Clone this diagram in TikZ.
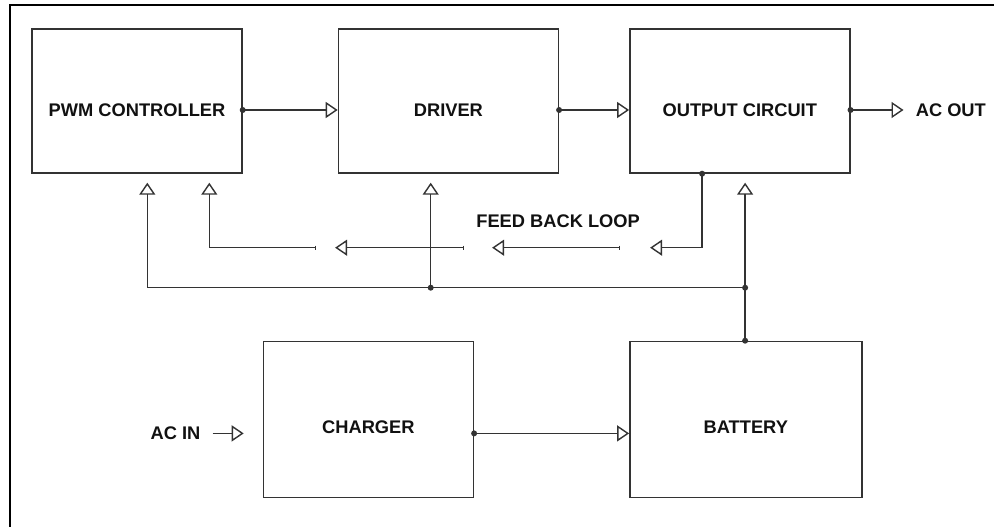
\documentclass[tikz,border=0pt]{standalone}
\usepackage{fontspec}
\setmainfont{Liberation Sans}
\usepackage{xcolor}
\usetikzlibrary{arrows.meta,positioning}
\definecolor{tinta}{HTML}{111111}
\definecolor{trazo}{HTML}{333333}

\begin{document}
\begin{tikzpicture}[
    bloque/.style={draw=trazo,line width=1pt,minimum width=5.5cm,
                   minimum height=3.6cm,text height=0.78cm,text depth=0pt,
                   font=\fontsize{13}{15}\selectfont\bfseries\color{tinta}},
    rotulo/.style={inner xsep=0.3cm,inner ysep=0pt,
                   font=\fontsize{13}{15}\selectfont\bfseries\color{tinta}},
    senal/.style={draw=trazo,line width=1pt},
    >={Triangle[open,length=0.3cm,width=0.4cm]}]
  \useasboundingbox (0,0) rectangle (24.85,-13.175);
  \draw[black,line width=1.5pt] (0.25,-13.5) -- (0.25,-0.125) -- (25,-0.125);

  \node[bloque,minimum width=5.25cm] (pwm) at (3.425,-2.525) {PWM CONTROLLER};
  \node[bloque,right=2.375cm of pwm] (drv) {DRIVER};
  \node[bloque,right=1.75cm of drv] (out) {OUTPUT CIRCUIT};
  \node[bloque,minimum width=5.8cm,minimum height=3.9cm,text height=0.68cm,
        below=4.175cm of out.south west,anchor=north west] (bat) {BATTERY};
  \node[bloque,minimum width=5.25cm,minimum height=3.9cm,text height=0.68cm,
        left=3.875cm of bat] (chg) {CHARGER};

  % salidas de cada bloque
  \coordinate (pwmo) at ([yshift=-0.225cm]pwm.east);
  \coordinate (drvo) at ([yshift=-0.225cm]drv.east);
  \coordinate (outo) at ([yshift=-0.225cm]out.east);
  \coordinate (chgo) at ([yshift=-0.35cm]chg.east);
  \draw[senal,->] (pwmo) -- (pwmo -| drv.west);
  \draw[senal,->] (drvo) -- (drvo -| out.west);
  \node[rotulo,right=1.325cm of outo] (acout) {AC OUT};
  \draw[senal,->] (outo) -- (acout.west);
  \draw[senal,->] (chgo) -- (chgo -| bat.west);
  \coordinate (chgi) at (chgo -| chg.west);
  \coordinate[left=0.475cm of chgi] (acinp);
  \node[rotulo,left=0.775cm of acinp] (acin) {AC IN};
  \draw[senal,->] (acin.east) -- (acinp);

  % entradas por abajo y alimentacion desde la bateria
  \coordinate (pwmi1) at ([xshift=2.9cm,yshift=-0.225cm]pwm.south west);
  \coordinate (pwmi2) at ([xshift=4.45cm,yshift=-0.225cm]pwm.south west);
  \coordinate (drvi) at ([xshift=2.325cm,yshift=-0.225cm]drv.south west);
  \coordinate (outi) at ([xshift=2.9cm,yshift=-0.225cm]out.south west);
  \coordinate (batj) at ([xshift=2.9cm]bat.north west);
  \coordinate (busr) at ([yshift=1.325cm]batj);
  \coordinate (busm) at (drvi |- busr);
  \draw[senal,->] (batj) -- (outi);
  \draw[senal,->] (busm) -- (drvi);
  \draw[senal,->] (busr) -| (pwmi1);

  % lazo de realimentacion, en tramos
  \coordinate (fbo) at ([xshift=1.825cm]out.south west);
  \coordinate (fbc) at ([yshift=-1.85cm]fbo);
  \draw[senal,->] (fbo) |- ([xshift=-1.3cm]fbc);
  \foreach \a/\b in {2.05/5.25,5.95/9.175}
    \draw[senal,{Bar[width=0.1cm]}->] ([xshift=-\a cm]fbc) -- ([xshift=-\b cm]fbc);
  \draw[senal,{Bar[width=0.1cm]}->] ([xshift=-9.65cm]fbc) -| (pwmi2);
  \node[rotulo] (fbl) at ([xshift=-3.6cm,yshift=0.65cm]fbc) {FEED BACK LOOP};

  \foreach \p in {pwmo,drvo,outo,chgo,fbo,busm,busr,batj}
    \fill[trazo] (\p) circle (0.075cm);
\end{tikzpicture}
\end{document}
